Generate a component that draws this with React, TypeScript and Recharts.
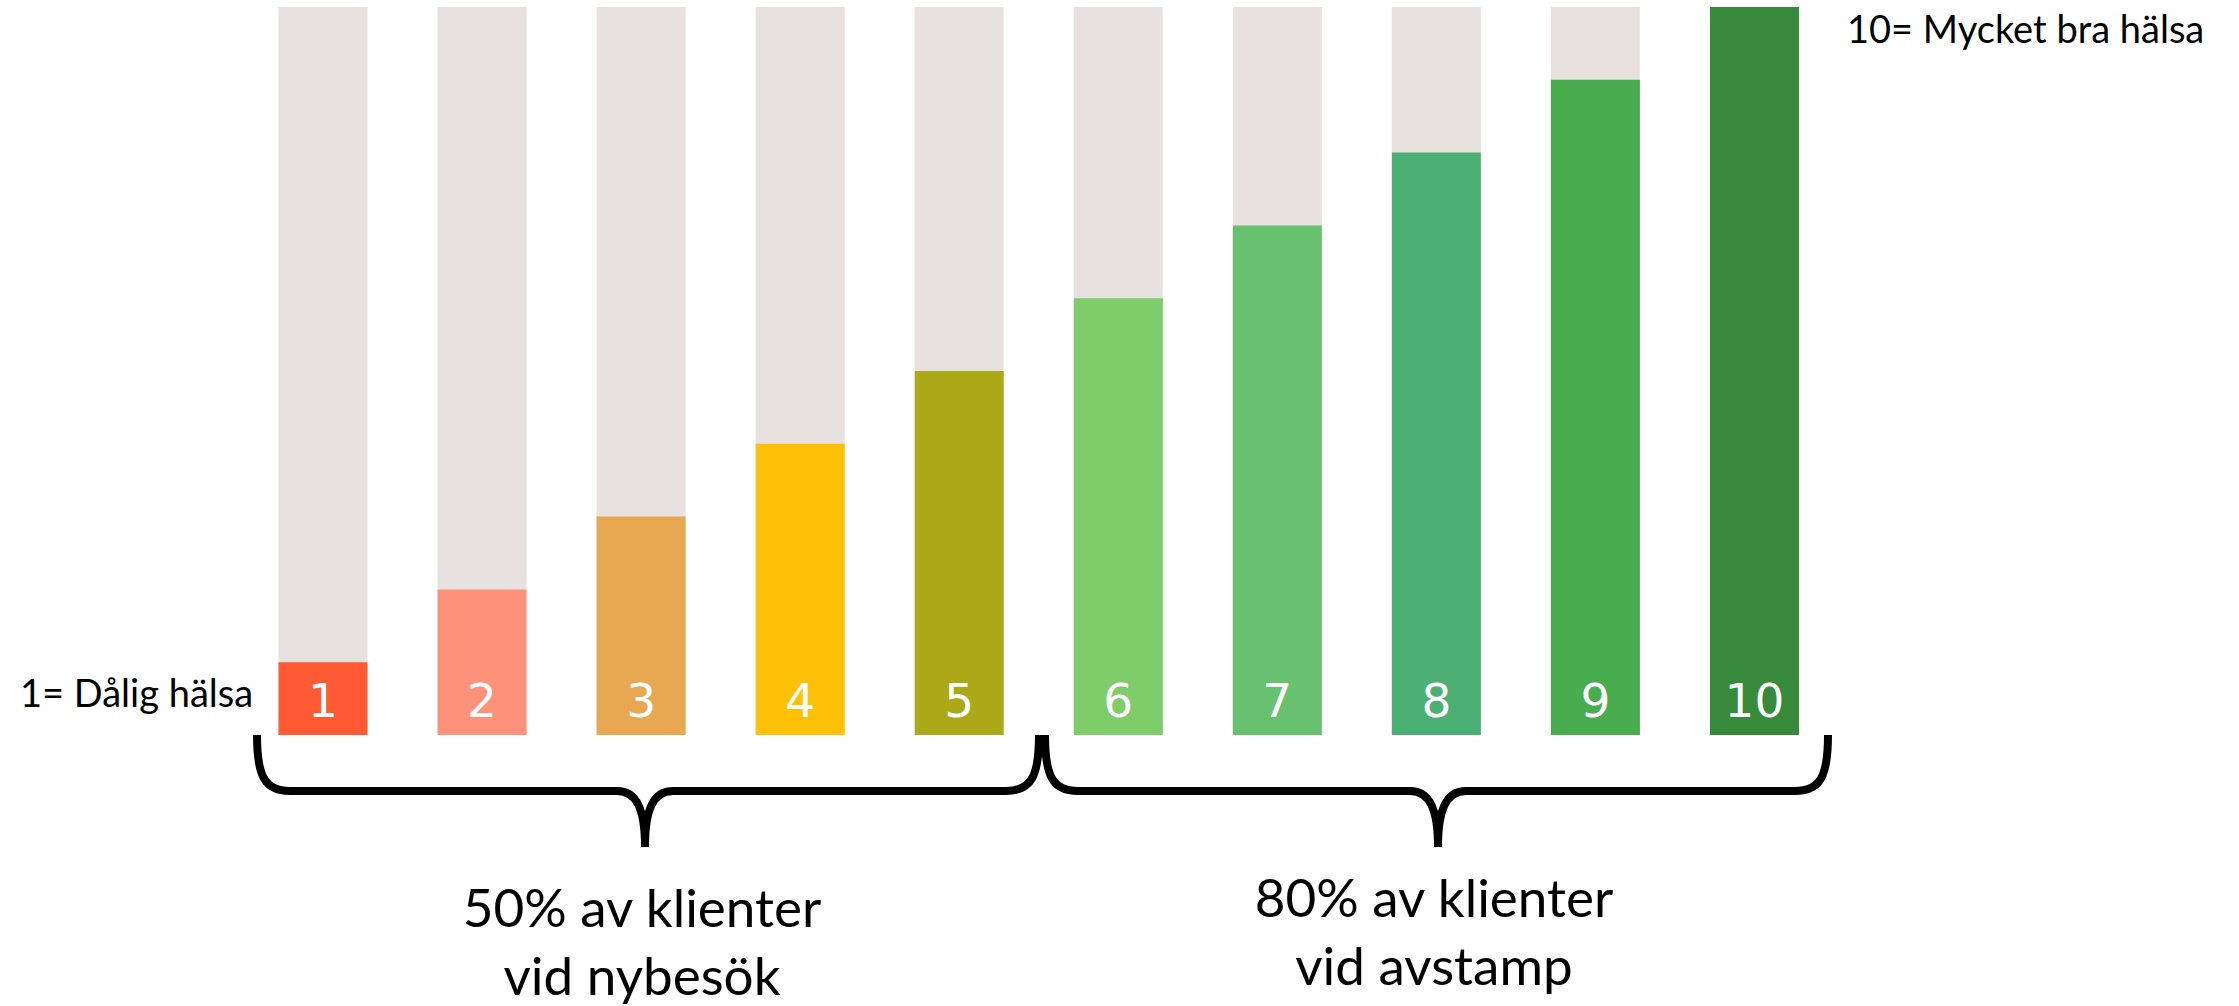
import { BarChart, Bar, XAxis, YAxis, Cell, LabelList } from 'recharts';

// health scale 1..10
const scores = ['1', '2', '3', '4', '5', '6', '7', '8', '9', '10'];
const values = [1, 2, 3, 4, 5, 6, 7, 8, 9, 10];
const fullScale = [10, 10, 10, 10, 10, 10, 10, 10, 10, 10];
const colors = [
  '#FF5A33', '#FD927A', '#E8A852', '#FFC107', '#ABA917',
  '#7FCC6A', '#67C16E', '#4CB075', '#49AC4E', '#378A39',
];

const lowLabel = '1= Dålig hälsa';
const highLabel = '10= Mycket bra hälsa';
const groupTexts = [
  ['50% av klienter', 'vid nybesök'],
  ['80% av klienter', 'vid avstamp'],
];

const data = scores.map((s, i) => ({ score: s, value: values[i], full: fullScale[i] }));

const W = 2239;
const H = 1006;
const font = 'Lato, "Open Sans", sans-serif';

function BarNumber(props: any) {
  const { x, y, width, height, value } = props;
  return (
    <text
      x={x + width / 2}
      y={y + height - 18}
      textAnchor="middle"
      fill="#ffffff"
      fontSize={47}
      fontFamily='"DejaVu Sans", sans-serif'
    >
      {value}
    </text>
  );
}

// curly brace opening downward, from x1 to x2 with tip at tx
function bracePath(x1: number, x2: number, tx: number) {
  const top = 735;
  const mid = 791;
  const tip = 847;
  return [
    `M${x1},${top}`,
    `C${x1},${mid - 16} ${x1 + 7},${mid} ${x1 + 33},${mid}`,
    `L${tx - 28},${mid}`,
    `C${tx - 8},${mid} ${tx},${mid + 19} ${tx},${tip}`,
    `C${tx},${mid + 19} ${tx + 8},${mid} ${tx + 28},${mid}`,
    `L${x2 - 33},${mid}`,
    `C${x2 - 7},${mid} ${x2},${mid - 16} ${x2},${top}`,
  ].join(' ');
}

export default function App() {
  return (
    <div style={{ position: 'absolute', left: 0, top: 0, width: W, height: H, background: '#fff' }}>
      <BarChart
        width={W}
        height={H}
        data={data}
        margin={{ top: 7, right: 405, bottom: 271, left: 243.5 }}
      >
        <XAxis dataKey="score" xAxisId="bg" hide />
        <XAxis dataKey="score" xAxisId="fg" hide />
        <YAxis domain={[0, 10]} hide />
        <Bar dataKey="full" xAxisId="bg" fill="#E7E2E0" barSize={89} isAnimationActive={false} />
        <Bar dataKey="value" xAxisId="fg" barSize={89} isAnimationActive={false}>
          {data.map((d, i) => (
            <Cell key={d.score} fill={colors[i]} />
          ))}
          <LabelList dataKey="score" content={BarNumber} />
        </Bar>
      </BarChart>
      <svg
        width={W}
        height={H}
        style={{ position: 'absolute', left: 0, top: 0, pointerEvents: 'none' }}
      >
        <text x={20} y={707} fontSize={38} fontFamily={font} fill="#000">{lowLabel}</text>
        <text x={1847} y={43} fontSize={38} fontFamily={font} fill="#000">{highLabel}</text>
        <path d={bracePath(257, 1039, 645)} fill="none" stroke="#000" strokeWidth={8} />
        <path d={bracePath(1045, 1828, 1438)} fill="none" stroke="#000" strokeWidth={8} />
        <text x={642} y={927} textAnchor="middle" fontSize={53} fontFamily={font} fill="#000">{groupTexts[0][0]}</text>
        <text x={642} y={995} textAnchor="middle" fontSize={53} fontFamily={font} fill="#000">{groupTexts[0][1]}</text>
        <text x={1434} y={917} textAnchor="middle" fontSize={53} fontFamily={font} fill="#000">{groupTexts[1][0]}</text>
        <text x={1434} y={985} textAnchor="middle" fontSize={53} fontFamily={font} fill="#000">{groupTexts[1][1]}</text>
      </svg>
    </div>
  );
}
